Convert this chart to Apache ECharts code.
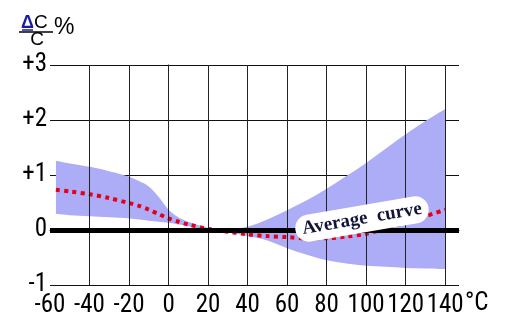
<!DOCTYPE html>
<html><head><meta charset="utf-8">
<script src="https://cdn.jsdelivr.net/npm/echarts@6/dist/echarts.min.js"></script>
<style>html,body{margin:0;padding:0;background:#fff}#c{width:512px;height:336px}</style>
</head><body><div id="c"></div>
<script>
// Temperature (°C) sample points
const temps   = [-57, -50, -40, -30, -20, -15, -10, -5, 0, 5, 10, 20, 30, 40, 50, 60, 70, 80, 90, 100, 110, 120, 130, 140];
// Upper and lower limits of the capacitance change band (ΔC/C %)
const upper   = [1.26, 1.21, 1.15, 1.07, 0.97, 0.89, 0.79, 0.60, 0.37, 0.23, 0.15, 0.04, 0.01, 0.06, 0.19, 0.36, 0.54, 0.75, 0.98, 1.22, 1.48, 1.74, 1.98, 2.20];
const lower   = [0.29, 0.27, 0.25, 0.23, 0.21, 0.19, 0.17, 0.15, 0.13, 0.10, 0.07, 0.00, -0.04, -0.11, -0.19, -0.33, -0.45, -0.55, -0.61, -0.65, -0.67, -0.69, -0.70, -0.71];
// Average curve
const average = [0.73, 0.70, 0.65, 0.58, 0.49, 0.44, 0.37, 0.29, 0.21, 0.15, 0.10, 0.02, -0.03, -0.08, -0.11, -0.13, -0.15, -0.15, -0.12, -0.07, 0.03, 0.14, 0.25, 0.37];
// Axis ticks
const xTicks = [-60, -40, -20, 0, 20, 40, 60, 80, 100, 120, 140];
const yTicks = [-1, 0, 1, 2, 3];
const xUnit = '°C';
const curveLabel = 'Average  curve';

const chart = echarts.init(document.getElementById('c'), null, {renderer: 'canvas'});
const labelFont = '"Roboto Condensed", "Liberation Sans", sans-serif';
const bandColor = '#acacf7';

// Catmull-Rom -> cubic Bezier path through pixel points (rendering only)
function curveSegs(pts) {
  let d = '';
  for (let i = 0; i < pts.length - 1; i++) {
    const p0 = pts[i - 1] || pts[i], p1 = pts[i], p2 = pts[i + 1], p3 = pts[i + 2] || p2;
    const c1 = [p1[0] + (p2[0] - p0[0]) / 6, p1[1] + (p2[1] - p0[1]) / 6];
    const c2 = [p2[0] - (p3[0] - p1[0]) / 6, p2[1] - (p3[1] - p1[1]) / 6];
    d += ' C' + c1[0] + ',' + c1[1] + ' ' + c2[0] + ',' + c2[1] + ' ' + p2[0] + ',' + p2[1];
  }
  return d;
}

function renderBand(params, api) {
  if (params.dataIndex !== 0) return null;
  const n = temps.length;
  const up = [], lo = [];
  for (let i = 0; i < n; i++) {
    up.push(api.coord([api.value(0, i), api.value(2, i)]));
    lo.push(api.coord([api.value(0, i), api.value(1, i)]));
  }
  const loRev = lo.slice().reverse();
  const d = 'M' + up[0][0] + ',' + up[0][1] + curveSegs(up) +
            ' L' + loRev[0][0] + ',' + loRev[0][1] + curveSegs(loRev) + ' Z';
  return {type: 'path', shape: {pathData: d}, style: {fill: bandColor, stroke: null}};
}

chart.setOption({
  animation: false,
  backgroundColor: '#fff',
  grid: {left: 50, right: 53, top: 65, bottom: 51, containLabel: false},
  xAxis: {
    type: 'value',
    min: xTicks[0], max: 147, interval: 20,
    axisLine: {show: true, lineStyle: {color: '#000', width: 1}},
    axisTick: {show: false},
    splitLine: {show: false},
    axisLabel: {
      color: '#000', fontFamily: labelFont, fontSize: 25, margin: 8,
      formatter: v => (xTicks.indexOf(v) >= 0 ? String(v) : '')
    }
  },
  yAxis: {
    type: 'value',
    min: yTicks[0], max: yTicks[yTicks.length - 1], interval: 1,
    axisLine: {show: true, lineStyle: {color: '#000', width: 1}},
    axisTick: {show: true, length: 3, lineStyle: {color: '#000'}},
    splitLine: {show: true, lineStyle: {color: '#111', width: 1}},
    axisLabel: {
      color: '#000', fontFamily: labelFont, fontSize: 25, margin: 3,
      formatter: v => (v > 0 ? '+' + v : String(v))
    }
  },
  series: [
    {
      type: 'line', name: 'grid', z: 1,
      data: temps.map((t, i) => [t, average[i]]),
      symbol: 'none', lineStyle: {opacity: 0}, silent: true,
      markLine: {
        silent: true, symbol: 'none', animation: false,
        label: {show: false},
        data: xTicks.slice(1).map(v => ({xAxis: v, lineStyle: {color: '#222', width: 1, type: 'solid'}}))
          .concat([{yAxis: 0, lineStyle: {color: '#000', width: 5, type: 'solid'}}])
      }
    },
    {
      type: 'custom', name: 'band', z: 2, silent: true,
      data: temps.map((t, i) => [t, lower[i], upper[i]]),
      encode: {x: 0, y: [1, 2]},
      renderItem: renderBand
    },
    {
      type: 'line', name: 'average', z: 3,
      data: temps.map((t, i) => [t, average[i]]),
      smooth: 0.3, symbol: 'none',
      lineStyle: {color: '#e4001b', width: 4, type: [4, 4.3]},
      silent: true
    }
  ],
  graphic: [
    {
      type: 'text', x: 362, y: 219, rotation: 0.17, z: 100,
      style: {
        text: curveLabel, x: 0, y: 0, align: 'center', verticalAlign: 'middle',
        fill: '#141438', font: 'bold 19px "Liberation Serif"',
        backgroundColor: '#fff', borderRadius: 14, padding: [4, 7]
      }
    },
    {
      type: 'text', x: 465, y: 304, z: 100,
      style: {text: xUnit, align: 'left', verticalAlign: 'middle', fill: '#000', fontFamily: labelFont, fontSize: 25}
    },
    {
      type: 'text', x: 21, y: 23, z: 100,
      style: {
        text: '{d|Δ}{c|C}', verticalAlign: 'middle', align: 'left',
        rich: {
          d: {fill: '#1a1aa8', fontFamily: '"Liberation Sans"', fontSize: 18, fontWeight: 'bold'},
          c: {fill: '#000', fontFamily: '"Liberation Sans"', fontSize: 19}
        }
      }
    },
    {type: 'line', z: 100, shape: {x1: 22, y1: 30, x2: 33, y2: 30}, style: {stroke: '#1a1aa8', lineWidth: 1.5}},
    {type: 'line', z: 100, shape: {x1: 19, y1: 32, x2: 53, y2: 32}, style: {stroke: '#000', lineWidth: 1.5}},
    {
      type: 'text', x: 37, y: 40, z: 100,
      style: {text: 'C', align: 'center', verticalAlign: 'middle', fill: '#000', fontFamily: '"Liberation Sans"', fontSize: 19}
    },
    {
      type: 'text', x: 54, y: 28, z: 100,
      style: {text: '%', align: 'left', verticalAlign: 'middle', fill: '#000', fontFamily: '"Liberation Sans"', fontSize: 23}
    }
  ]
});
</script>
</body></html>
